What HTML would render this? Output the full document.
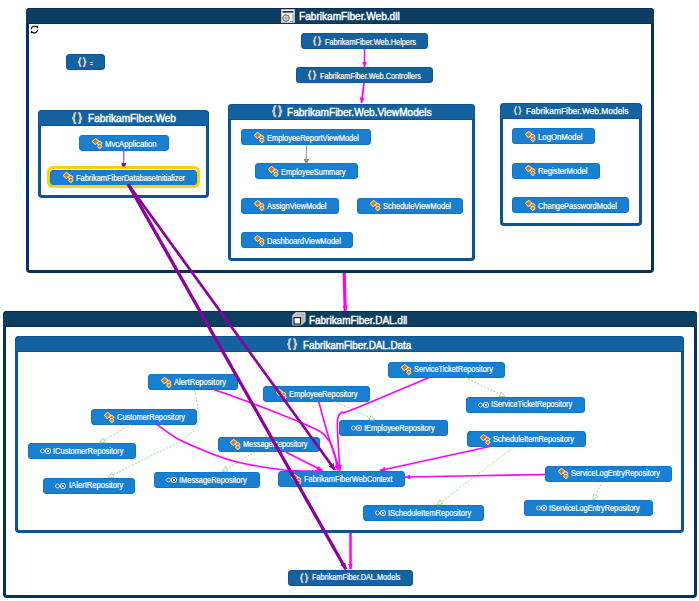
<!DOCTYPE html><html><head><meta charset='utf-8'><style>
html,body{margin:0;padding:0;background:#fff;width:699px;height:601px;overflow:hidden;position:relative;font-family:"Liberation Sans", sans-serif;}
.g{position:absolute;box-sizing:border-box;}
.n{position:absolute;box-sizing:border-box;border-radius:3px;}
.t{position:absolute;white-space:nowrap;color:#fff;transform-origin:0 0;line-height:1;-webkit-text-stroke:0.2px #fff;}
.hm{-webkit-text-stroke:0.25px #fff !important;}
.h{-webkit-text-stroke:0.45px #fff;}
</style></head><body>
<div class='g' style='left:26px;top:8px;width:628px;height:265px;border:3.5px solid #05325c;border-top:none;border-radius:4px;'></div>
<div class='g' style='left:26px;top:8px;width:628px;height:16px;background:#0c3d62;border-top:1px solid #032c58;border-bottom:1.5px solid #06335b;border-radius:4px 4px 0 0;'></div>
<div class='t h' style='left:298.7px;top:10.7px;font-size:11px;transform:scaleX(0.9168);'>FabrikamFiber.Web.dll</div>
<svg style='position:absolute;left:280.5px;top:8.8px' width='14' height='14' viewBox='0 0 14 14'><rect x='0.3' y='0.3' width='13.4' height='13.4' fill='#f6f6f6' stroke='#bbb' stroke-width='0.6'/><rect x='1.5' y='2.2' width='11' height='1.4' fill='#111'/><circle cx='5' cy='9' r='3.3' fill='#e8e8e8' stroke='#555' stroke-width='0.9'/><path d='M5 5.7 L5 12.3 M1.7 9 L8.3 9' stroke='#777' stroke-width='0.7'/><path d='M9 12.5 L12 12.5 L12 5' fill='none' stroke='#666' stroke-width='0.7'/></svg>
<div class='g' style='left:2.5px;top:311px;width:694.5px;height:287px;border:3.5px solid #05325c;border-top:none;border-radius:4px;'></div>
<div class='g' style='left:2.5px;top:311px;width:694.5px;height:16px;background:#0c3d62;border-top:1px solid #032c58;border-bottom:1.5px solid #06335b;border-radius:4px 4px 0 0;'></div>
<div class='t h' style='left:308.7px;top:314.7px;font-size:11px;transform:scaleX(0.9033);'>FabrikamFiber.DAL.dll</div>
<svg style='position:absolute;left:291.5px;top:312px' width='14' height='14' viewBox='0 0 14 14'><path d='M3.6 0.8 L13 0.8 L13 9.4 L9.6 12.8 L0.8 12.8 L0.8 3.6 Z' fill='#c4c4c4' stroke='#ececec' stroke-width='0.9'/><path d='M5 2.2 L11.6 2.2 L11.6 8.8' fill='none' stroke='#9a9a9a' stroke-width='0.6'/><rect x='2' y='5.6' width='6.6' height='6.4' fill='#fff' stroke='#111' stroke-width='1.1'/></svg>
<div class='g' style='left:38px;top:110px;width:171px;height:88px;border:3.5px solid #0d5291;border-top:none;border-radius:4px;'></div>
<div class='g' style='left:38px;top:110px;width:171px;height:16px;background:#1462a0;border:1.5px solid #0d5291;border-bottom-width:1px;border-radius:4px 4px 0 0;'></div>
<div class='t h' style='left:87.5px;top:112.7px;font-size:11px;transform:scaleX(0.9188);'>FabrikamFiber.Web</div>
<svg style='position:absolute;left:71.3px;top:111.8px' width='12.419999999999998' height='12.419999999999998' viewBox='0 0 11 11'><path d='M4.6 0.9 C3 0.9 2.8 1.9 2.8 3.5 C2.8 4.6 2.3 5.5 1 5.5 C2.3 5.5 2.8 6.4 2.8 7.5 C2.8 9.1 3 10.1 4.6 10.1' fill='none' stroke='#d4cbc1' stroke-width='1.9'/><path d='M6.4 0.9 C8 0.9 8.2 1.9 8.2 3.5 C8.2 4.6 8.7 5.5 10 5.5 C8.7 5.5 8.2 6.4 8.2 7.5 C8.2 9.1 8 10.1 6.4 10.1' fill='none' stroke='#d4cbc1' stroke-width='1.9'/></svg>
<div class='g' style='left:228px;top:103.5px;width:247px;height:157.0px;border:3.5px solid #0d5291;border-top:none;border-radius:4px;'></div>
<div class='g' style='left:228px;top:103.5px;width:247px;height:16px;background:#1462a0;border:1.5px solid #0d5291;border-bottom-width:1px;border-radius:4px 4px 0 0;'></div>
<div class='t h' style='left:286.7px;top:106.8px;font-size:11px;transform:scaleX(0.9156);'>FabrikamFiber.Web.ViewModels</div>
<svg style='position:absolute;left:270.8px;top:105.3px' width='12.419999999999998' height='12.419999999999998' viewBox='0 0 11 11'><path d='M4.6 0.9 C3 0.9 2.8 1.9 2.8 3.5 C2.8 4.6 2.3 5.5 1 5.5 C2.3 5.5 2.8 6.4 2.8 7.5 C2.8 9.1 3 10.1 4.6 10.1' fill='none' stroke='#d4cbc1' stroke-width='1.9'/><path d='M6.4 0.9 C8 0.9 8.2 1.9 8.2 3.5 C8.2 4.6 8.7 5.5 10 5.5 C8.7 5.5 8.2 6.4 8.2 7.5 C8.2 9.1 8 10.1 6.4 10.1' fill='none' stroke='#d4cbc1' stroke-width='1.9'/></svg>
<div class='g' style='left:500px;top:103px;width:142px;height:122.5px;border:3.5px solid #0d5291;border-top:none;border-radius:4px;'></div>
<div class='g' style='left:500px;top:103px;width:142px;height:16px;background:#1462a0;border:1.5px solid #0d5291;border-bottom-width:1px;border-radius:4px 4px 0 0;'></div>
<div class='t h hm' style='left:525.6px;top:107.0px;font-size:9px;transform:scaleX(0.9320);'>FabrikamFiber.Web.Models</div>
<svg style='position:absolute;left:513.2px;top:105.6px' width='9.450000000000001' height='9.450000000000001' viewBox='0 0 11 11'><path d='M4.6 0.9 C3 0.9 2.8 1.9 2.8 3.5 C2.8 4.6 2.3 5.5 1 5.5 C2.3 5.5 2.8 6.4 2.8 7.5 C2.8 9.1 3 10.1 4.6 10.1' fill='none' stroke='#d4cbc1' stroke-width='1.9'/><path d='M6.4 0.9 C8 0.9 8.2 1.9 8.2 3.5 C8.2 4.6 8.7 5.5 10 5.5 C8.7 5.5 8.2 6.4 8.2 7.5 C8.2 9.1 8 10.1 6.4 10.1' fill='none' stroke='#d4cbc1' stroke-width='1.9'/></svg>
<div class='g' style='left:15px;top:336px;width:668.8px;height:197px;border:3.5px solid #0d5291;border-top:none;border-radius:4px;'></div>
<div class='g' style='left:15px;top:336px;width:668.8px;height:16px;background:#1462a0;border:1.5px solid #0d5291;border-bottom-width:1px;border-radius:4px 4px 0 0;'></div>
<div class='t h' style='left:302.5px;top:339.7px;font-size:11px;transform:scaleX(0.8947);'>FabrikamFiber.DAL.Data</div>
<svg style='position:absolute;left:286.3px;top:337.8px' width='12.419999999999998' height='12.419999999999998' viewBox='0 0 11 11'><path d='M4.6 0.9 C3 0.9 2.8 1.9 2.8 3.5 C2.8 4.6 2.3 5.5 1 5.5 C2.3 5.5 2.8 6.4 2.8 7.5 C2.8 9.1 3 10.1 4.6 10.1' fill='none' stroke='#d4cbc1' stroke-width='1.9'/><path d='M6.4 0.9 C8 0.9 8.2 1.9 8.2 3.5 C8.2 4.6 8.7 5.5 10 5.5 C8.7 5.5 8.2 6.4 8.2 7.5 C8.2 9.1 8 10.1 6.4 10.1' fill='none' stroke='#d4cbc1' stroke-width='1.9'/></svg>
<div class='n' style='left:66px;top:54px;width:39px;height:16px;background:#1562a0;border:0.8px solid #10559a;'></div>
<svg style='position:absolute;left:77.1px;top:57.0px' width='10.35' height='10.35' viewBox='0 0 11 11'><path d='M4.6 0.9 C3 0.9 2.8 1.9 2.8 3.5 C2.8 4.6 2.3 5.5 1 5.5 C2.3 5.5 2.8 6.4 2.8 7.5 C2.8 9.1 3 10.1 4.6 10.1' fill='none' stroke='#d4cbc1' stroke-width='1.9'/><path d='M6.4 0.9 C8 0.9 8.2 1.9 8.2 3.5 C8.2 4.6 8.7 5.5 10 5.5 C8.7 5.5 8.2 6.4 8.2 7.5 C8.2 9.1 8 10.1 6.4 10.1' fill='none' stroke='#d4cbc1' stroke-width='1.9'/></svg>
<div class='t' style='left:89.5px;top:59.5px;font-size:8.2px;transform:scaleX(0.6254);'>=</div>
<div class='n' style='left:301px;top:33px;width:127px;height:16px;background:#1562a0;border:0.8px solid #10559a;'></div>
<svg style='position:absolute;left:312.1px;top:36.0px' width='10.35' height='10.35' viewBox='0 0 11 11'><path d='M4.6 0.9 C3 0.9 2.8 1.9 2.8 3.5 C2.8 4.6 2.3 5.5 1 5.5 C2.3 5.5 2.8 6.4 2.8 7.5 C2.8 9.1 3 10.1 4.6 10.1' fill='none' stroke='#d4cbc1' stroke-width='1.9'/><path d='M6.4 0.9 C8 0.9 8.2 1.9 8.2 3.5 C8.2 4.6 8.7 5.5 10 5.5 C8.7 5.5 8.2 6.4 8.2 7.5 C8.2 9.1 8 10.1 6.4 10.1' fill='none' stroke='#d4cbc1' stroke-width='1.9'/></svg>
<div class='t' style='left:324.5px;top:38.5px;font-size:8.2px;transform:scaleX(0.8941);'>FabrikamFiber.Web.Helpers</div>
<div class='n' style='left:296px;top:67px;width:137px;height:16px;background:#1562a0;border:0.8px solid #10559a;'></div>
<svg style='position:absolute;left:307.1px;top:70.0px' width='10.35' height='10.35' viewBox='0 0 11 11'><path d='M4.6 0.9 C3 0.9 2.8 1.9 2.8 3.5 C2.8 4.6 2.3 5.5 1 5.5 C2.3 5.5 2.8 6.4 2.8 7.5 C2.8 9.1 3 10.1 4.6 10.1' fill='none' stroke='#d4cbc1' stroke-width='1.9'/><path d='M6.4 0.9 C8 0.9 8.2 1.9 8.2 3.5 C8.2 4.6 8.7 5.5 10 5.5 C8.7 5.5 8.2 6.4 8.2 7.5 C8.2 9.1 8 10.1 6.4 10.1' fill='none' stroke='#d4cbc1' stroke-width='1.9'/></svg>
<div class='t' style='left:319.5px;top:72.5px;font-size:8.2px;transform:scaleX(0.8926);'>FabrikamFiber.Web.Controllers</div>
<div class='n' style='left:79px;top:135px;width:89.6px;height:16px;background:#197fd1;border:0.8px solid #1274c6;'></div>
<svg style='position:absolute;left:91.6px;top:137.6px' width='11' height='11' viewBox='0 0 11 11'><g fill='#d9780f' stroke='#fff1d6' stroke-width='1.5' stroke-linejoin='round' paint-order='stroke'><path d='M0.9 3.4 L3.6 0.8 L6.3 3.1 L3.3 6.2 Z'/><path d='M5.5 5.3 L7.7 3.5 L9.7 5.3 L7.6 7.2 Z'/><path d='M5.9 8.3 L7.9 6.6 L9.8 8.3 L7.9 10.1 Z'/></g></svg>
<div class='t' style='left:104.5px;top:140.5px;font-size:8.2px;transform:scaleX(0.9371);'>MvcApplication</div>
<div class='n' style='left:50px;top:169.5px;width:147px;height:16.5px;background:#197fd1;border:0.8px solid #1274c6;'></div>
<svg style='position:absolute;left:62.6px;top:172.1px' width='11' height='11' viewBox='0 0 11 11'><g fill='#d9780f' stroke='#fff1d6' stroke-width='1.5' stroke-linejoin='round' paint-order='stroke'><path d='M0.9 3.4 L3.6 0.8 L6.3 3.1 L3.3 6.2 Z'/><path d='M5.5 5.3 L7.7 3.5 L9.7 5.3 L7.6 7.2 Z'/><path d='M5.9 8.3 L7.9 6.6 L9.8 8.3 L7.9 10.1 Z'/></g></svg>
<div class='t' style='left:75.5px;top:175.0px;font-size:8.2px;transform:scaleX(0.9073);'>FabrikamFiberDatabaseInitializer</div>
<div class='n' style='left:241px;top:129px;width:130px;height:16px;background:#197fd1;border:0.8px solid #1274c6;'></div>
<svg style='position:absolute;left:253.6px;top:131.6px' width='11' height='11' viewBox='0 0 11 11'><g fill='#d9780f' stroke='#fff1d6' stroke-width='1.5' stroke-linejoin='round' paint-order='stroke'><path d='M0.9 3.4 L3.6 0.8 L6.3 3.1 L3.3 6.2 Z'/><path d='M5.5 5.3 L7.7 3.5 L9.7 5.3 L7.6 7.2 Z'/><path d='M5.9 8.3 L7.9 6.6 L9.8 8.3 L7.9 10.1 Z'/></g></svg>
<div class='t' style='left:266.5px;top:134.5px;font-size:8.2px;transform:scaleX(0.9119);'>EmployeeReportViewModel</div>
<div class='n' style='left:255px;top:163px;width:102.5px;height:16px;background:#197fd1;border:0.8px solid #1274c6;'></div>
<svg style='position:absolute;left:267.6px;top:165.6px' width='11' height='11' viewBox='0 0 11 11'><g fill='#d9780f' stroke='#fff1d6' stroke-width='1.5' stroke-linejoin='round' paint-order='stroke'><path d='M0.9 3.4 L3.6 0.8 L6.3 3.1 L3.3 6.2 Z'/><path d='M5.5 5.3 L7.7 3.5 L9.7 5.3 L7.6 7.2 Z'/><path d='M5.9 8.3 L7.9 6.6 L9.8 8.3 L7.9 10.1 Z'/></g></svg>
<div class='t' style='left:280.5px;top:168.5px;font-size:8.2px;transform:scaleX(0.9029);'>EmployeeSummary</div>
<div class='n' style='left:241px;top:197.5px;width:97.5px;height:16.0px;background:#197fd1;border:0.8px solid #1274c6;'></div>
<svg style='position:absolute;left:253.6px;top:200.1px' width='11' height='11' viewBox='0 0 11 11'><g fill='#d9780f' stroke='#fff1d6' stroke-width='1.5' stroke-linejoin='round' paint-order='stroke'><path d='M0.9 3.4 L3.6 0.8 L6.3 3.1 L3.3 6.2 Z'/><path d='M5.5 5.3 L7.7 3.5 L9.7 5.3 L7.6 7.2 Z'/><path d='M5.9 8.3 L7.9 6.6 L9.8 8.3 L7.9 10.1 Z'/></g></svg>
<div class='t' style='left:266.5px;top:203.0px;font-size:8.2px;transform:scaleX(0.9227);'>AssignViewModel</div>
<div class='n' style='left:357px;top:197.5px;width:106px;height:16.0px;background:#197fd1;border:0.8px solid #1274c6;'></div>
<svg style='position:absolute;left:369.6px;top:200.1px' width='11' height='11' viewBox='0 0 11 11'><g fill='#d9780f' stroke='#fff1d6' stroke-width='1.5' stroke-linejoin='round' paint-order='stroke'><path d='M0.9 3.4 L3.6 0.8 L6.3 3.1 L3.3 6.2 Z'/><path d='M5.5 5.3 L7.7 3.5 L9.7 5.3 L7.6 7.2 Z'/><path d='M5.9 8.3 L7.9 6.6 L9.8 8.3 L7.9 10.1 Z'/></g></svg>
<div class='t' style='left:382.5px;top:203.0px;font-size:8.2px;transform:scaleX(0.9183);'>ScheduleViewModel</div>
<div class='n' style='left:241px;top:232px;width:112px;height:16px;background:#197fd1;border:0.8px solid #1274c6;'></div>
<svg style='position:absolute;left:253.6px;top:234.6px' width='11' height='11' viewBox='0 0 11 11'><g fill='#d9780f' stroke='#fff1d6' stroke-width='1.5' stroke-linejoin='round' paint-order='stroke'><path d='M0.9 3.4 L3.6 0.8 L6.3 3.1 L3.3 6.2 Z'/><path d='M5.5 5.3 L7.7 3.5 L9.7 5.3 L7.6 7.2 Z'/><path d='M5.9 8.3 L7.9 6.6 L9.8 8.3 L7.9 10.1 Z'/></g></svg>
<div class='t' style='left:266.5px;top:237.5px;font-size:8.2px;transform:scaleX(0.9255);'>DashboardViewModel</div>
<div class='n' style='left:512px;top:128px;width:82.5px;height:16px;background:#197fd1;border:0.8px solid #1274c6;'></div>
<svg style='position:absolute;left:524.6px;top:130.6px' width='11' height='11' viewBox='0 0 11 11'><g fill='#d9780f' stroke='#fff1d6' stroke-width='1.5' stroke-linejoin='round' paint-order='stroke'><path d='M0.9 3.4 L3.6 0.8 L6.3 3.1 L3.3 6.2 Z'/><path d='M5.5 5.3 L7.7 3.5 L9.7 5.3 L7.6 7.2 Z'/><path d='M5.9 8.3 L7.9 6.6 L9.8 8.3 L7.9 10.1 Z'/></g></svg>
<div class='t' style='left:537.5px;top:133.5px;font-size:8.2px;transform:scaleX(0.9490);'>LogOnModel</div>
<div class='n' style='left:512px;top:162.5px;width:87.5px;height:16.0px;background:#197fd1;border:0.8px solid #1274c6;'></div>
<svg style='position:absolute;left:524.6px;top:165.1px' width='11' height='11' viewBox='0 0 11 11'><g fill='#d9780f' stroke='#fff1d6' stroke-width='1.5' stroke-linejoin='round' paint-order='stroke'><path d='M0.9 3.4 L3.6 0.8 L6.3 3.1 L3.3 6.2 Z'/><path d='M5.5 5.3 L7.7 3.5 L9.7 5.3 L7.6 7.2 Z'/><path d='M5.9 8.3 L7.9 6.6 L9.8 8.3 L7.9 10.1 Z'/></g></svg>
<div class='t' style='left:537.5px;top:168.0px;font-size:8.2px;transform:scaleX(0.9376);'>RegisterModel</div>
<div class='n' style='left:512px;top:197px;width:117px;height:16px;background:#197fd1;border:0.8px solid #1274c6;'></div>
<svg style='position:absolute;left:524.6px;top:199.6px' width='11' height='11' viewBox='0 0 11 11'><g fill='#d9780f' stroke='#fff1d6' stroke-width='1.5' stroke-linejoin='round' paint-order='stroke'><path d='M0.9 3.4 L3.6 0.8 L6.3 3.1 L3.3 6.2 Z'/><path d='M5.5 5.3 L7.7 3.5 L9.7 5.3 L7.6 7.2 Z'/><path d='M5.9 8.3 L7.9 6.6 L9.8 8.3 L7.9 10.1 Z'/></g></svg>
<div class='t' style='left:537.5px;top:202.5px;font-size:8.2px;transform:scaleX(0.9087);'>ChangePasswordModel</div>
<div class='n' style='left:148px;top:374px;width:90px;height:16px;background:#197fd1;border:0.8px solid #1274c6;'></div>
<svg style='position:absolute;left:160.6px;top:376.6px' width='11' height='11' viewBox='0 0 11 11'><g fill='#d9780f' stroke='#fff1d6' stroke-width='1.5' stroke-linejoin='round' paint-order='stroke'><path d='M0.9 3.4 L3.6 0.8 L6.3 3.1 L3.3 6.2 Z'/><path d='M5.5 5.3 L7.7 3.5 L9.7 5.3 L7.6 7.2 Z'/><path d='M5.9 8.3 L7.9 6.6 L9.8 8.3 L7.9 10.1 Z'/></g></svg>
<div class='t' style='left:173.5px;top:378.5px;font-size:8.2px;transform:scaleX(0.9288);'>AlertRepository</div>
<div class='n' style='left:91px;top:409px;width:106px;height:16px;background:#197fd1;border:0.8px solid #1274c6;'></div>
<svg style='position:absolute;left:103.6px;top:411.6px' width='11' height='11' viewBox='0 0 11 11'><g fill='#d9780f' stroke='#fff1d6' stroke-width='1.5' stroke-linejoin='round' paint-order='stroke'><path d='M0.9 3.4 L3.6 0.8 L6.3 3.1 L3.3 6.2 Z'/><path d='M5.5 5.3 L7.7 3.5 L9.7 5.3 L7.6 7.2 Z'/><path d='M5.9 8.3 L7.9 6.6 L9.8 8.3 L7.9 10.1 Z'/></g></svg>
<div class='t' style='left:116.5px;top:413.5px;font-size:8.2px;transform:scaleX(0.9112);'>CustomerRepository</div>
<div class='n' style='left:27.5px;top:443px;width:108.30000000000001px;height:16px;background:#197fd1;border:0.8px solid #1274c6;'></div>
<svg style='position:absolute;left:39.5px;top:447.0px' width='11' height='8' viewBox='0 0 11 8'><circle cx='2.5' cy='4' r='1.9' fill='#2a5c98' stroke='#e8eef5' stroke-width='1'/><line x1='4.5' y1='4' x2='5.2' y2='4' stroke='#e8eef5' stroke-width='1'/><circle cx='8' cy='4' r='2.5' fill='#1d4f8c' stroke='#e8eef5' stroke-width='1.1'/><circle cx='8' cy='4' r='1' fill='#ffffff'/></svg>
<div class='t' style='left:52.8px;top:447.5px;font-size:8.2px;transform:scaleX(0.9167);'>ICustomerRepository</div>
<div class='n' style='left:43.2px;top:477.5px;width:92.10000000000001px;height:16.0px;background:#197fd1;border:0.8px solid #1274c6;'></div>
<svg style='position:absolute;left:55.2px;top:481.5px' width='11' height='8' viewBox='0 0 11 8'><circle cx='2.5' cy='4' r='1.9' fill='#2a5c98' stroke='#e8eef5' stroke-width='1'/><line x1='4.5' y1='4' x2='5.2' y2='4' stroke='#e8eef5' stroke-width='1'/><circle cx='8' cy='4' r='2.5' fill='#1d4f8c' stroke='#e8eef5' stroke-width='1.1'/><circle cx='8' cy='4' r='1' fill='#ffffff'/></svg>
<div class='t' style='left:68.5px;top:482.0px;font-size:8.2px;transform:scaleX(0.9322);'>IAlertRepository</div>
<div class='n' style='left:263px;top:386px;width:106.5px;height:15.5px;background:#197fd1;border:0.8px solid #1274c6;'></div>
<svg style='position:absolute;left:275.6px;top:388.6px' width='11' height='11' viewBox='0 0 11 11'><g fill='#d9780f' stroke='#fff1d6' stroke-width='1.5' stroke-linejoin='round' paint-order='stroke'><path d='M0.9 3.4 L3.6 0.8 L6.3 3.1 L3.3 6.2 Z'/><path d='M5.5 5.3 L7.7 3.5 L9.7 5.3 L7.6 7.2 Z'/><path d='M5.9 8.3 L7.9 6.6 L9.8 8.3 L7.9 10.1 Z'/></g></svg>
<div class='t' style='left:288.5px;top:390.5px;font-size:8.2px;transform:scaleX(0.9067);'>EmployeeRepository</div>
<div class='n' style='left:217.5px;top:436.5px;width:102.5px;height:15.5px;background:#197fd1;border:0.8px solid #1274c6;'></div>
<svg style='position:absolute;left:230.1px;top:439.1px' width='11' height='11' viewBox='0 0 11 11'><g fill='#d9780f' stroke='#fff1d6' stroke-width='1.5' stroke-linejoin='round' paint-order='stroke'><path d='M0.9 3.4 L3.6 0.8 L6.3 3.1 L3.3 6.2 Z'/><path d='M5.5 5.3 L7.7 3.5 L9.7 5.3 L7.6 7.2 Z'/><path d='M5.9 8.3 L7.9 6.6 L9.8 8.3 L7.9 10.1 Z'/></g></svg>
<div class='t' style='left:243.0px;top:441.0px;font-size:8.2px;transform:scaleX(0.8914);'>MessageRepository</div>
<div class='n' style='left:154px;top:472px;width:105.5px;height:15.5px;background:#197fd1;border:0.8px solid #1274c6;'></div>
<svg style='position:absolute;left:166px;top:475.75px' width='11' height='8' viewBox='0 0 11 8'><circle cx='2.5' cy='4' r='1.9' fill='#2a5c98' stroke='#e8eef5' stroke-width='1'/><line x1='4.5' y1='4' x2='5.2' y2='4' stroke='#e8eef5' stroke-width='1'/><circle cx='8' cy='4' r='2.5' fill='#1d4f8c' stroke='#e8eef5' stroke-width='1.1'/><circle cx='8' cy='4' r='1' fill='#ffffff'/></svg>
<div class='t' style='left:179.3px;top:476.5px;font-size:8.2px;transform:scaleX(0.9070);'>IMessageRepository</div>
<div class='n' style='left:278px;top:471px;width:126.5px;height:16px;background:#197fd1;border:0.8px solid #1274c6;'></div>
<svg style='position:absolute;left:290.6px;top:473.6px' width='11' height='11' viewBox='0 0 11 11'><g fill='#d9780f' stroke='#fff1d6' stroke-width='1.5' stroke-linejoin='round' paint-order='stroke'><path d='M0.9 3.4 L3.6 0.8 L6.3 3.1 L3.3 6.2 Z'/><path d='M5.5 5.3 L7.7 3.5 L9.7 5.3 L7.6 7.2 Z'/><path d='M5.9 8.3 L7.9 6.6 L9.8 8.3 L7.9 10.1 Z'/></g></svg>
<div class='t' style='left:303.5px;top:475.5px;font-size:8.2px;transform:scaleX(0.9060);'>FabrikamFiberWebContext</div>
<div class='n' style='left:388px;top:361.5px;width:117px;height:16.0px;background:#197fd1;border:0.8px solid #1274c6;'></div>
<svg style='position:absolute;left:400.6px;top:364.1px' width='11' height='11' viewBox='0 0 11 11'><g fill='#d9780f' stroke='#fff1d6' stroke-width='1.5' stroke-linejoin='round' paint-order='stroke'><path d='M0.9 3.4 L3.6 0.8 L6.3 3.1 L3.3 6.2 Z'/><path d='M5.5 5.3 L7.7 3.5 L9.7 5.3 L7.6 7.2 Z'/><path d='M5.9 8.3 L7.9 6.6 L9.8 8.3 L7.9 10.1 Z'/></g></svg>
<div class='t' style='left:413.5px;top:366.0px;font-size:8.2px;transform:scaleX(0.8980);'>ServiceTicketRepository</div>
<div class='n' style='left:339px;top:420px;width:108.5px;height:16px;background:#197fd1;border:0.8px solid #1274c6;'></div>
<svg style='position:absolute;left:351px;top:424.0px' width='11' height='8' viewBox='0 0 11 8'><circle cx='2.5' cy='4' r='1.9' fill='#2a5c98' stroke='#e8eef5' stroke-width='1'/><line x1='4.5' y1='4' x2='5.2' y2='4' stroke='#e8eef5' stroke-width='1'/><circle cx='8' cy='4' r='2.5' fill='#1d4f8c' stroke='#e8eef5' stroke-width='1.1'/><circle cx='8' cy='4' r='1' fill='#ffffff'/></svg>
<div class='t' style='left:364.3px;top:424.5px;font-size:8.2px;transform:scaleX(0.9084);'>IEmployeeRepository</div>
<div class='n' style='left:466px;top:396.5px;width:119px;height:16.0px;background:#197fd1;border:0.8px solid #1274c6;'></div>
<svg style='position:absolute;left:478px;top:400.5px' width='11' height='8' viewBox='0 0 11 8'><circle cx='2.5' cy='4' r='1.9' fill='#2a5c98' stroke='#e8eef5' stroke-width='1'/><line x1='4.5' y1='4' x2='5.2' y2='4' stroke='#e8eef5' stroke-width='1'/><circle cx='8' cy='4' r='2.5' fill='#1d4f8c' stroke='#e8eef5' stroke-width='1.1'/><circle cx='8' cy='4' r='1' fill='#ffffff'/></svg>
<div class='t' style='left:491.3px;top:401.0px;font-size:8.2px;transform:scaleX(0.8997);'>IServiceTicketRepository</div>
<div class='n' style='left:467px;top:431px;width:119px;height:16px;background:#197fd1;border:0.8px solid #1274c6;'></div>
<svg style='position:absolute;left:479.6px;top:433.6px' width='11' height='11' viewBox='0 0 11 11'><g fill='#d9780f' stroke='#fff1d6' stroke-width='1.5' stroke-linejoin='round' paint-order='stroke'><path d='M0.9 3.4 L3.6 0.8 L6.3 3.1 L3.3 6.2 Z'/><path d='M5.5 5.3 L7.7 3.5 L9.7 5.3 L7.6 7.2 Z'/><path d='M5.9 8.3 L7.9 6.6 L9.8 8.3 L7.9 10.1 Z'/></g></svg>
<div class='t' style='left:492.5px;top:435.5px;font-size:8.2px;transform:scaleX(0.9080);'>ScheduleItemRepository</div>
<div class='n' style='left:545px;top:465.5px;width:127px;height:16.0px;background:#197fd1;border:0.8px solid #1274c6;'></div>
<svg style='position:absolute;left:557.6px;top:468.1px' width='11' height='11' viewBox='0 0 11 11'><g fill='#d9780f' stroke='#fff1d6' stroke-width='1.5' stroke-linejoin='round' paint-order='stroke'><path d='M0.9 3.4 L3.6 0.8 L6.3 3.1 L3.3 6.2 Z'/><path d='M5.5 5.3 L7.7 3.5 L9.7 5.3 L7.6 7.2 Z'/><path d='M5.9 8.3 L7.9 6.6 L9.8 8.3 L7.9 10.1 Z'/></g></svg>
<div class='t' style='left:570.5px;top:470.0px;font-size:8.2px;transform:scaleX(0.8970);'>ServiceLogEntryRepository</div>
<div class='n' style='left:363px;top:505px;width:121px;height:16px;background:#197fd1;border:0.8px solid #1274c6;'></div>
<svg style='position:absolute;left:375px;top:509.0px' width='11' height='8' viewBox='0 0 11 8'><circle cx='2.5' cy='4' r='1.9' fill='#2a5c98' stroke='#e8eef5' stroke-width='1'/><line x1='4.5' y1='4' x2='5.2' y2='4' stroke='#e8eef5' stroke-width='1'/><circle cx='8' cy='4' r='2.5' fill='#1d4f8c' stroke='#e8eef5' stroke-width='1.1'/><circle cx='8' cy='4' r='1' fill='#ffffff'/></svg>
<div class='t' style='left:388.3px;top:509.5px;font-size:8.2px;transform:scaleX(0.9094);'>IScheduleItemRepository</div>
<div class='n' style='left:524px;top:500px;width:128.5px;height:16px;background:#197fd1;border:0.8px solid #1274c6;'></div>
<svg style='position:absolute;left:536px;top:504.0px' width='11' height='8' viewBox='0 0 11 8'><circle cx='2.5' cy='4' r='1.9' fill='#2a5c98' stroke='#e8eef5' stroke-width='1'/><line x1='4.5' y1='4' x2='5.2' y2='4' stroke='#e8eef5' stroke-width='1'/><circle cx='8' cy='4' r='2.5' fill='#1d4f8c' stroke='#e8eef5' stroke-width='1.1'/><circle cx='8' cy='4' r='1' fill='#ffffff'/></svg>
<div class='t' style='left:549.3px;top:504.5px;font-size:8.2px;transform:scaleX(0.8937);'>IServiceLogEntryRepository</div>
<div class='n' style='left:288px;top:569.5px;width:124.5px;height:16.0px;background:#1562a0;border:0.8px solid #10559a;'></div>
<svg style='position:absolute;left:299.1px;top:572.5px' width='10.35' height='10.35' viewBox='0 0 11 11'><path d='M4.6 0.9 C3 0.9 2.8 1.9 2.8 3.5 C2.8 4.6 2.3 5.5 1 5.5 C2.3 5.5 2.8 6.4 2.8 7.5 C2.8 9.1 3 10.1 4.6 10.1' fill='none' stroke='#d4cbc1' stroke-width='1.9'/><path d='M6.4 0.9 C8 0.9 8.2 1.9 8.2 3.5 C8.2 4.6 8.7 5.5 10 5.5 C8.7 5.5 8.2 6.4 8.2 7.5 C8.2 9.1 8 10.1 6.4 10.1' fill='none' stroke='#d4cbc1' stroke-width='1.9'/></svg>
<div class='t' style='left:311.5px;top:574.0px;font-size:8.2px;transform:scaleX(0.8921);'>FabrikamFiber.DAL.Models</div>
<div style='position:absolute;left:47px;top:166.3px;width:153px;height:22.2px;box-sizing:border-box;border:3px solid #ffd200;border-radius:6px;'></div>
<svg style='position:absolute;left:29.5px;top:24.8px' width='9' height='9' viewBox='0 0 9 9'><path d='M6.9 2.1 A3.3 3.3 0 0 0 1.3 4.2' fill='none' stroke='#151515' stroke-width='1.3'/><path d='M2.1 6.9 A3.3 3.3 0 0 0 7.7 4.8' fill='none' stroke='#151515' stroke-width='1.3'/><path d='M5.2 0.9 L8.3 0.7 L7.9 3.8 Z' fill='#151515'/><path d='M3.8 8.1 L0.7 8.3 L1.1 5.2 Z' fill='#151515'/></svg>
<svg style='position:absolute;left:0;top:0' width='699' height='601' viewBox='0 0 699 601'>
<defs>
<marker id='am' markerWidth='6' markerHeight='5' refX='5.5' refY='2.5' orient='auto' markerUnits='userSpaceOnUse'><path d='M0 0 L6 2.5 L0 5 Z' fill='#ff00ff'/></marker>
<marker id='ap' markerWidth='7' markerHeight='6' refX='6.5' refY='3' orient='auto' markerUnits='userSpaceOnUse'><path d='M0 0 L7 3 L0 6 Z' fill='#8c009c'/></marker>
<marker id='ag' markerWidth='7' markerHeight='6' refX='6' refY='3' orient='auto' markerUnits='userSpaceOnUse'><path d='M0.5 0.5 L6 3 L0.5 5.5 Z' fill='#fff' stroke='#8fd98f' stroke-width='0.8'/></marker>
<marker id='agr' markerWidth='6' markerHeight='6' refX='5' refY='3' orient='auto' markerUnits='userSpaceOnUse'><path d='M0 0 L6 3 L0 6 Z' fill='#888'/></marker>
<marker id='apl' markerWidth='4' markerHeight='5' refX='3.8' refY='2.5' orient='auto' markerUnits='userSpaceOnUse'><path d='M0 0 L4 1 L4 4 L0 5 Z' fill='#8a00a0'/></marker>
</defs>
<path d='M130.00 424.50 C124.92 427.58 104.58 439.92 99.50 443.00' fill='none' stroke='#90dd90' stroke-width='0.9' stroke-dasharray='2 1.5' marker-end='url(#ag)'/>
<path d='M194.50 389.70 C195.08 392.87 197.30 403.43 198.00 408.70 C198.70 413.97 199.50 417.62 198.70 421.30 C197.90 424.98 196.48 427.37 193.20 430.80 C189.92 434.23 186.63 437.42 179.00 441.90 C171.37 446.38 159.23 451.77 147.40 457.70 C135.57 463.63 114.57 474.20 108.00 477.50' fill='none' stroke='#90dd90' stroke-width='0.9' stroke-dasharray='2 1.5' marker-end='url(#ag)'/>
<path d='M255.00 452.00 C249.50 455.25 227.50 468.25 222.00 471.50' fill='none' stroke='#90dd90' stroke-width='0.9' stroke-dasharray='2 1.5' marker-end='url(#ag)'/>
<path d='M334.70 401.50 C341.42 404.58 368.28 416.92 375.00 420.00' fill='none' stroke='#90dd90' stroke-width='0.9' stroke-dasharray='2 1.5' marker-end='url(#ag)'/>
<path d='M465.00 377.50 C471.67 380.67 498.33 393.33 505.00 396.50' fill='none' stroke='#90dd90' stroke-width='0.9' stroke-dasharray='2 1.5' marker-end='url(#ag)'/>
<path d='M514.00 447.00 C501.17 456.67 449.83 495.33 437.00 505.00' fill='none' stroke='#90dd90' stroke-width='0.9' stroke-dasharray='2 1.5' marker-end='url(#ag)'/>
<path d='M603.00 481.50 C601.33 484.58 594.67 496.92 593.00 500.00' fill='none' stroke='#90dd90' stroke-width='0.9' stroke-dasharray='2 1.5' marker-end='url(#ag)'/>
<path d='M306.4 145 L306.4 163.5' fill='none' stroke='#959595' stroke-width='1' marker-end='url(#agr)'/>
<path d='M123.7 151 L123.7 166.3' fill='none' stroke='#bb5cc6' stroke-width='1.4' marker-end='url(#apl)'/>
<path d='M364.5 49 L364.5 67' fill='none' stroke='#ff00ff' stroke-width='1.5' marker-end='url(#am)'/>
<path d='M364 83 L361.5 103' fill='none' stroke='#ff00ff' stroke-width='1.8' marker-end='url(#am)'/>
<path d='M344.2 273 L345.2 311' fill='none' stroke='#ff00ff' stroke-width='3.2' marker-end='url(#am)'/>
<path d='M350.5 533 L350.5 569' fill='none' stroke='#ff00ff' stroke-width='2.5' marker-end='url(#am)'/>
<path d='M214.00 389.50 C222.40 392.57 250.63 402.68 264.40 407.90 C278.17 413.12 287.30 416.87 296.60 420.80 C305.90 424.73 314.72 428.05 320.20 431.50 C325.68 434.95 327.20 438.08 329.50 441.50 C331.80 444.92 332.62 447.17 334.00 452.00 C335.38 456.83 337.17 467.42 337.80 470.50' fill='none' stroke='#ff00ff' stroke-width='1.6' marker-end='url(#am)'/>
<path d='M156.90 424.50 C160.58 427.00 170.15 434.77 179.00 439.50 C187.85 444.23 200.33 449.15 210.00 452.90 C219.67 456.65 224.58 459.15 237.00 462.00 C249.42 464.85 270.28 468.50 284.50 470.00 C298.72 471.50 316.00 470.83 322.30 471.00' fill='none' stroke='#ff00ff' stroke-width='1.6' marker-end='url(#am)'/>
<path d='M318.70 401.50 C320.25 407.08 324.47 423.50 328.00 435.00 C331.53 446.50 337.92 464.58 339.90 470.50' fill='none' stroke='#ff00ff' stroke-width='1.6' marker-end='url(#am)'/>
<path d='M285.80 452.00 C291.88 455.08 316.22 467.42 322.30 470.50' fill='none' stroke='#ff00ff' stroke-width='1.6' marker-end='url(#am)'/>
<path d='M429.20 377.50 C416.33 382.88 366.57 404.02 352.00 409.80 C337.43 415.58 344.15 410.88 341.80 412.20 C339.45 413.52 338.62 414.73 337.90 417.70 C337.18 420.67 337.17 421.20 337.50 430.00 C337.83 438.80 339.50 463.75 339.90 470.50' fill='none' stroke='#ff00ff' stroke-width='1.6' marker-end='url(#am)'/>
<path d='M490.00 446.50 C471.67 450.50 398.33 466.50 380.00 470.50' fill='none' stroke='#ff00ff' stroke-width='1.6' marker-end='url(#am)'/>
<path d='M545.00 474.50 C521.67 474.92 428.33 476.58 405.00 477.00' fill='none' stroke='#ff00ff' stroke-width='1.6' marker-end='url(#am)'/>
<path d='M128.2 184.2 L335 470' fill='none' stroke='#8c009c' stroke-width='2.7' marker-end='url(#ap)'/>
<path d='M128.2 184.2 L345.9 569.3' fill='none' stroke='#8c009c' stroke-width='3.3' marker-end='url(#ap)'/>
</svg>
</body></html>
